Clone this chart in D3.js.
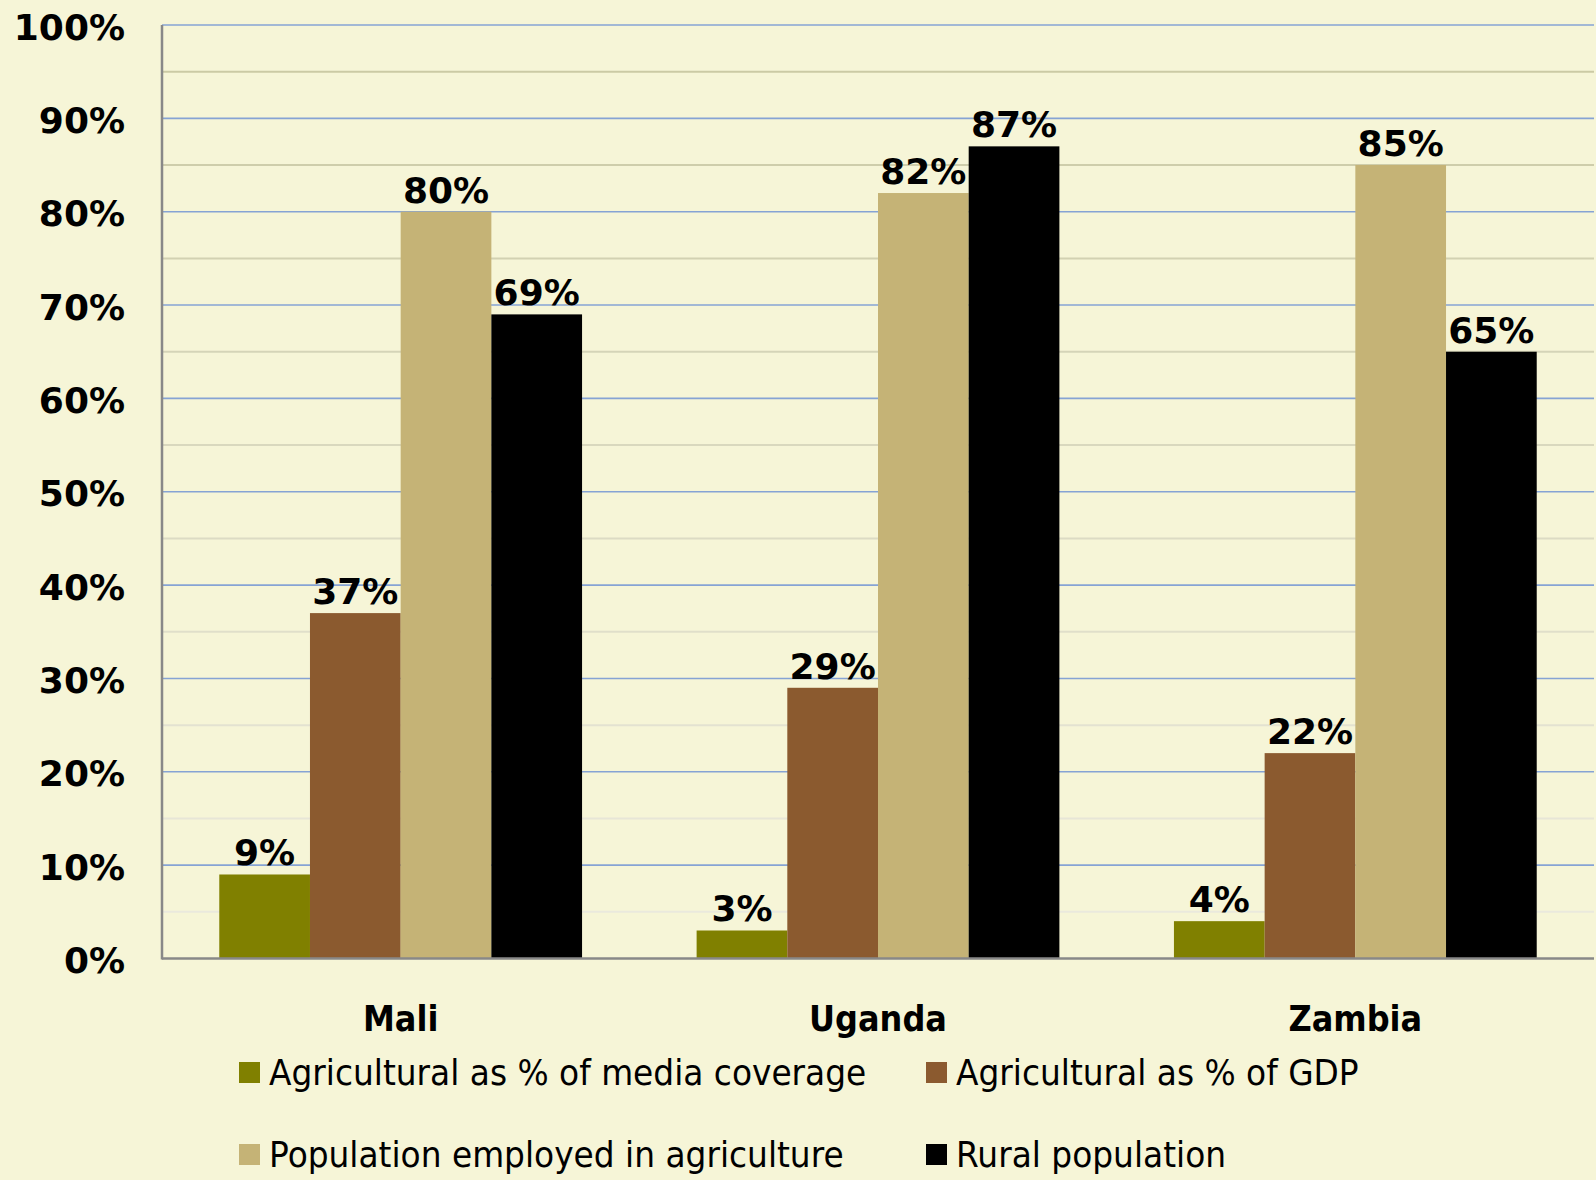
<!DOCTYPE html>
<html><head><meta charset="utf-8">
<script src="https://cdn.jsdelivr.net/npm/d3@7"></script>
<style>
html,body{margin:0;padding:0;background:#F6F5D7;}
svg{display:block;}
</style></head>
<body>
<svg id="chart" width="1596" height="1180"></svg>
<script>
const countries = ["Mali", "Uganda", "Zambia"];
const seriesNames = ["Agricultural as % of media coverage", "Agricultural as % of GDP", "Population employed in agriculture", "Rural population"];
const mediaCoverage = [0.09, 0.03, 0.04];
const gdpShare = [0.37, 0.29, 0.22];
const employedShare = [0.80, 0.82, 0.85];
const ruralShare = [0.69, 0.87, 0.65];
const yTicks = [0, 0.1, 0.2, 0.3, 0.4, 0.5, 0.6, 0.7, 0.8, 0.9, 1.0];
const minorTicks = [0.05, 0.15, 0.25, 0.35, 0.45, 0.55, 0.65, 0.75, 0.85, 0.95];
const colors = ["#808000", "#8B5A2F", "#C5B376", "#000000"];

const seriesValues = [mediaCoverage, gdpShare, employedShare, ruralShare];
const svg = d3.select("#chart");
const W = 1596, H = 1180;
const m = {left: 162, right: 2, top: 25, bottom: 958.5};

svg.append("rect").attr("width", W).attr("height", H).attr("fill", "#F6F5D7");

const x0 = d3.scaleBand().domain(countries).range([m.left, W - m.right]).paddingInner(0.24).paddingOuter(0.12);
const x1 = d3.scaleBand().domain(d3.range(seriesNames.length)).range([0, x0.bandwidth()]);
const y = d3.scaleLinear().domain([0, 1]).range([m.bottom, m.top]);

// minor gridlines (fade lighter toward bottom)
const minorColor = d3.scaleLinear().domain([0, 1]).range(["#ECEBE0", "#C9C8A2"]);
svg.append("g").selectAll("line").data(minorTicks).join("line")
  .attr("x1", m.left).attr("x2", W - m.right)
  .attr("y1", d => y(d)).attr("y2", d => y(d))
  .attr("stroke", d => minorColor(d)).attr("stroke-width", 2);

// major gridlines
svg.append("g").selectAll("line").data(yTicks.filter(d => d > 0)).join("line")
  .attr("x1", m.left).attr("x2", W - m.right)
  .attr("y1", d => y(d)).attr("y2", d => y(d))
  .attr("stroke", "#86A3D4").attr("stroke-width", 1.6);

// bars
const groups = svg.append("g").selectAll("g").data(countries).join("g")
  .attr("transform", d => `translate(${x0(d)},0)`);
groups.selectAll("rect").data((c, ci) => seriesValues.map((s, si) => ({si, v: s[ci]}))).join("rect")
  .attr("x", d => x1(d.si)).attr("width", x1.bandwidth())
  .attr("y", d => y(d.v)).attr("height", d => y(0) - y(d.v))
  .attr("fill", d => colors[d.si]);

// value labels
const fmt = d3.format(".0%");
groups.selectAll("text").data((c, ci) => seriesValues.map((s, si) => ({si, v: s[ci]}))).join("text")
  .attr("x", d => x1(d.si) + x1.bandwidth() / 2)
  .attr("y", d => y(d.v) - 9)
  .attr("text-anchor", "middle")
  .attr("font-family", "DejaVu Sans, Verdana, sans-serif")
  .attr("font-weight", "bold").attr("font-size", 36).attr("fill", "#000")
  .text(d => fmt(d.v));

// axes lines
svg.append("line").attr("x1", m.left).attr("x2", m.left).attr("y1", m.top).attr("y2", m.bottom + 1)
  .attr("stroke", "#888").attr("stroke-width", 2.5);
svg.append("line").attr("x1", m.left).attr("x2", W - m.right).attr("y1", m.bottom).attr("y2", m.bottom)
  .attr("stroke", "#888").attr("stroke-width", 2.5);

// y tick labels
const yAxis = d3.axisLeft(y).tickValues(yTicks).tickFormat(fmt).tickSize(0).tickPadding(0);
const yg = svg.append("g").attr("transform", `translate(125,0)`).call(yAxis);
yg.select(".domain").remove();
yg.selectAll("text")
  .attr("font-family", "DejaVu Sans, Verdana, sans-serif")
  .attr("font-weight", "bold").attr("font-size", 36).attr("fill", "#000")
  .attr("dy", null).attr("dominant-baseline", "central").attr("y", 1.5);

// category labels
const xAxis = d3.axisBottom(x0).tickSize(0).tickPadding(0);
const xg = svg.append("g").attr("transform", `translate(0,1031)`).call(xAxis);
xg.select(".domain").remove();
xg.selectAll("text")
  .attr("font-family", "DejaVu Sans, Verdana, sans-serif")
  .attr("font-weight", "bold").attr("font-size", 35).attr("fill", "#000")
  .attr("dy", null).attr("y", 0);
xg.selectAll("text").each(function() {
  const t = d3.select(this); const L = this.getComputedTextLength();
  t.attr("textLength", L * 0.915).attr("lengthAdjust", "spacingAndGlyphs");
});

// legend
const legendPos = [
  {x: 239, y: 1062}, {x: 926, y: 1062},
  {x: 239, y: 1144}, {x: 926, y: 1144}
];
const lg = svg.append("g").selectAll("g").data(seriesNames).join("g")
  .attr("transform", (d, i) => `translate(${legendPos[i].x},${legendPos[i].y})`);
lg.append("rect").attr("width", 21).attr("height", 21).attr("fill", (d, i) => colors[i]);
lg.append("text").attr("x", 30).attr("y", 23)
  .attr("font-family", "DejaVu Sans, Verdana, sans-serif")
  .attr("font-size", 36).attr("fill", "#000")
  .text(d => d)
  .each(function() {
    const L = this.getComputedTextLength();
    d3.select(this).attr("textLength", L * 0.912).attr("lengthAdjust", "spacingAndGlyphs");
  });
</script>
</body></html>
